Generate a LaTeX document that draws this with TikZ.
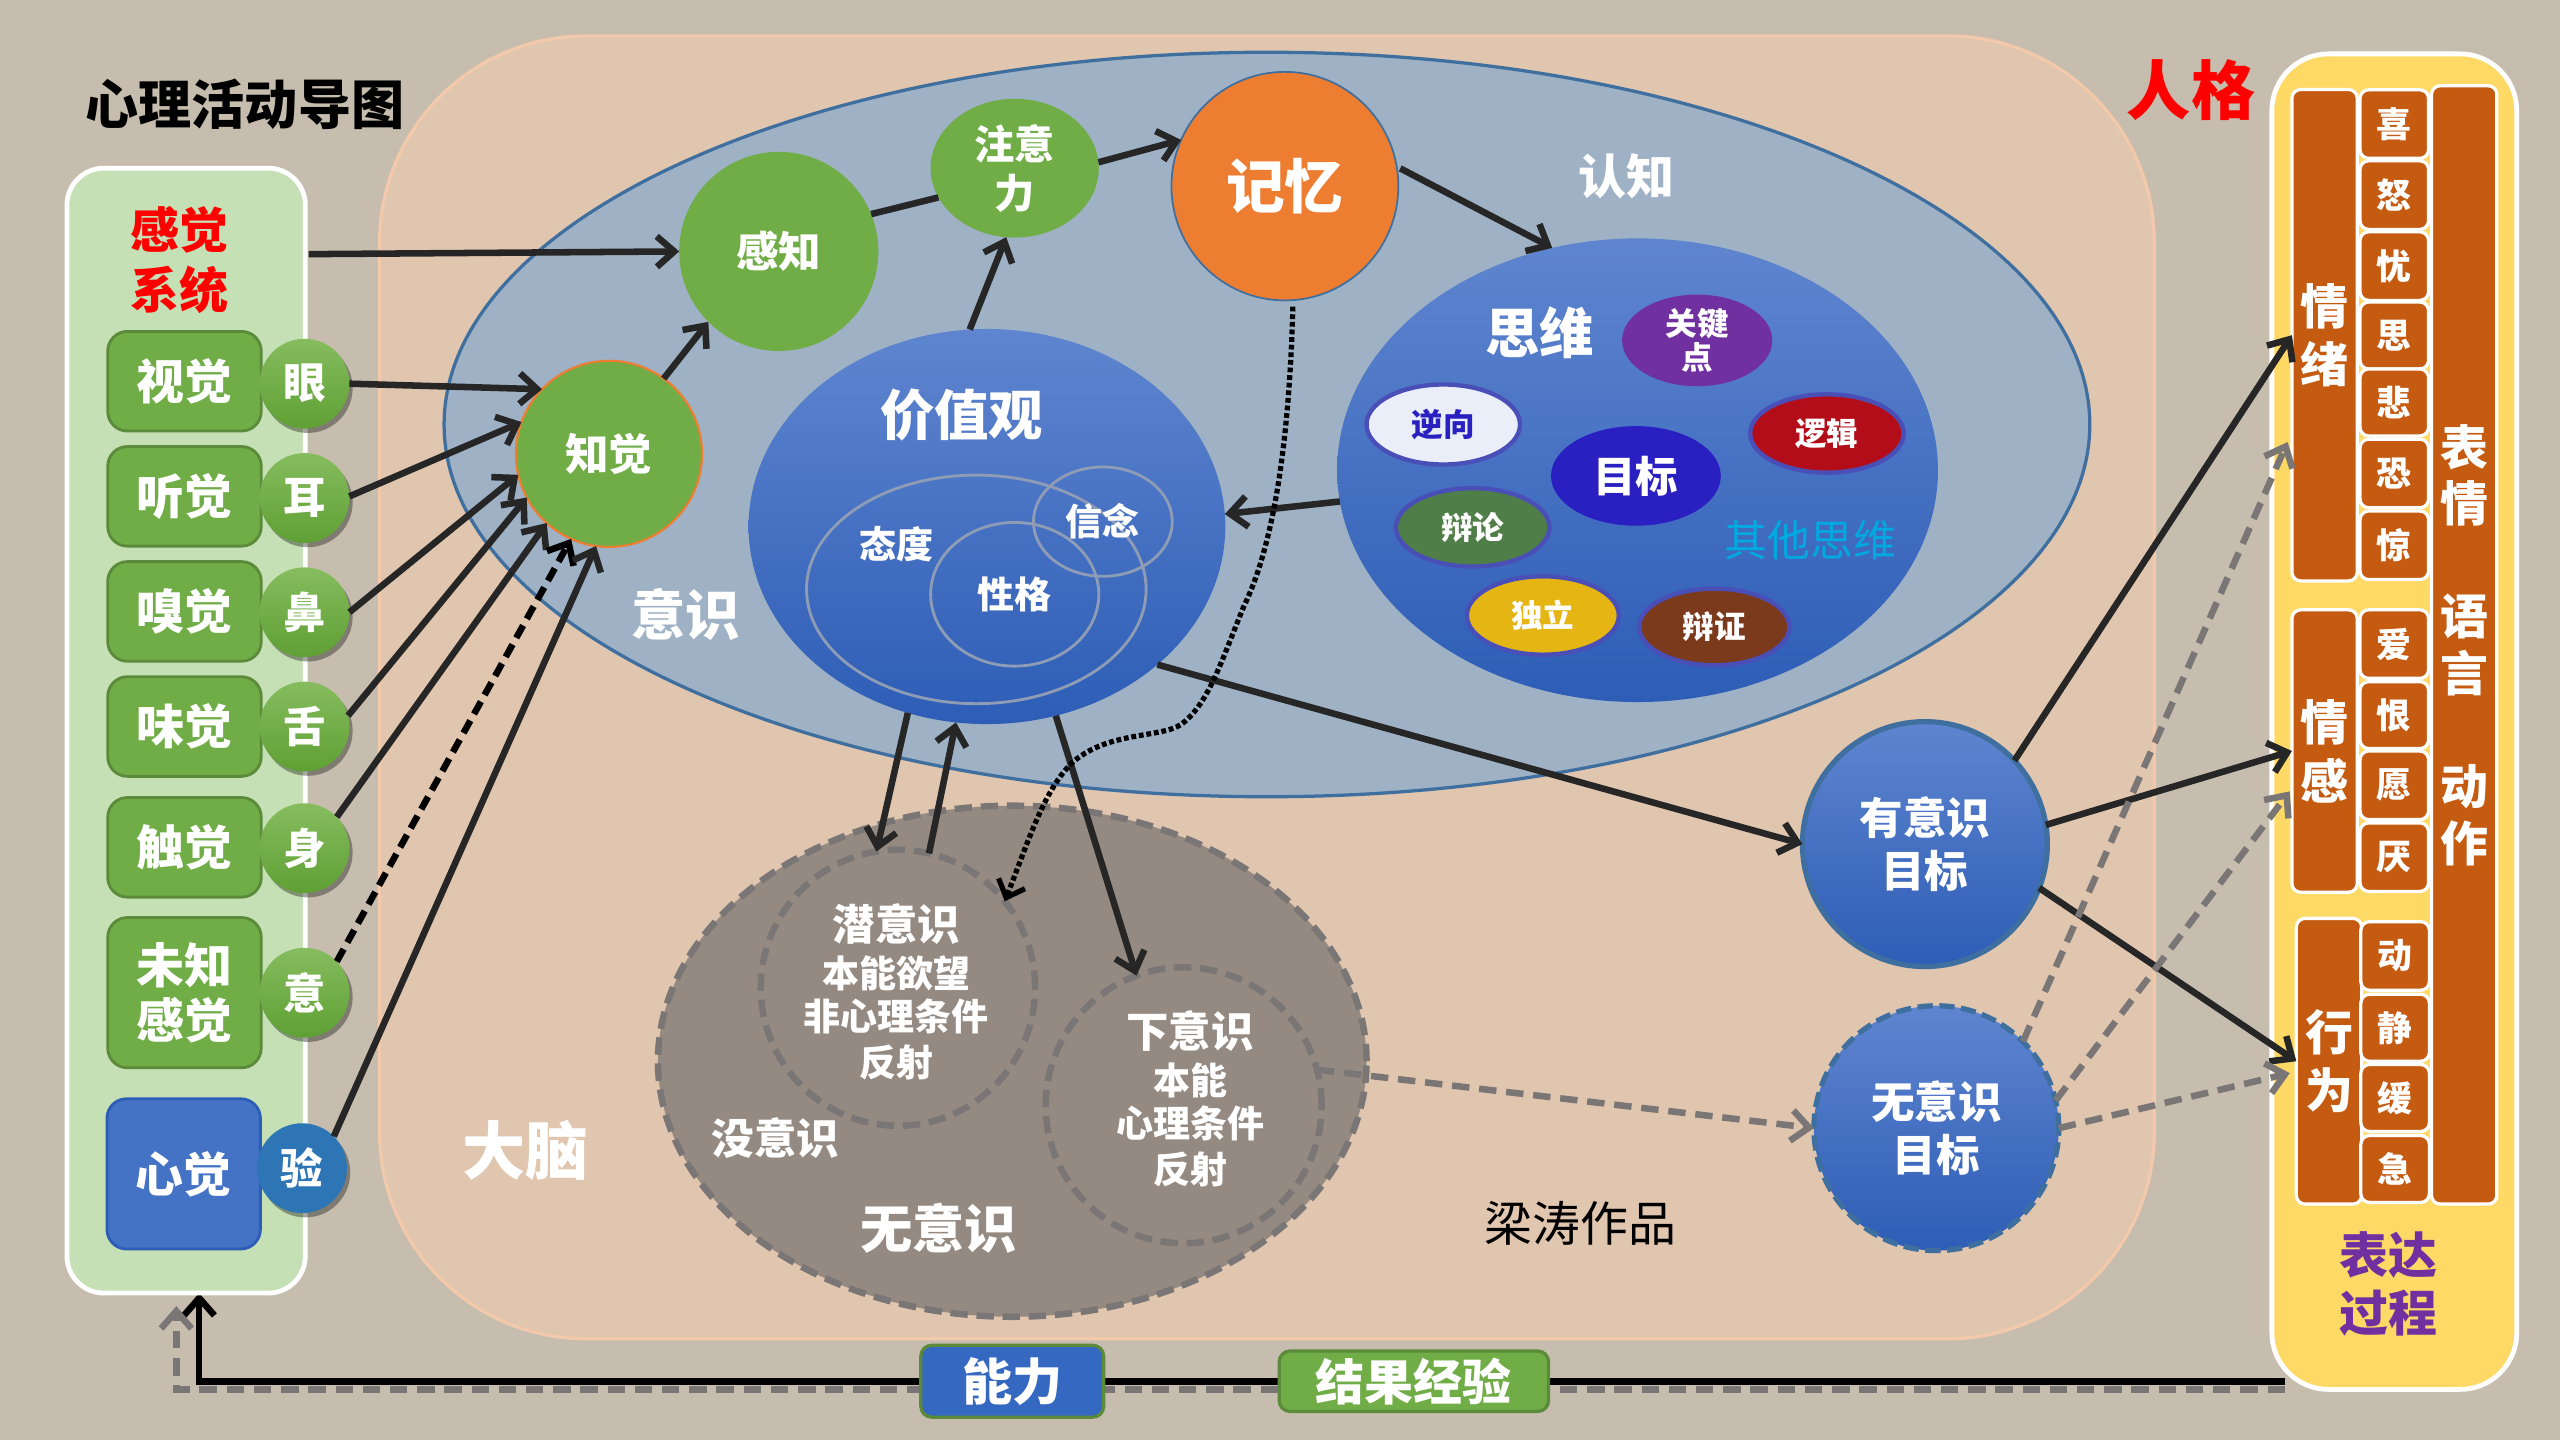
\documentclass[tikz,border=0pt]{standalone}
\usepackage{xcolor}
\usepackage{fontspec}
\setmainfont{Noto Sans CJK SC}
\usetikzlibrary{shapes.geometric,arrows.meta,shadows}

\definecolor{paper}{HTML}{C6BDAE}
\definecolor{brainfill}{HTML}{E0C5AF}
\definecolor{brainedge}{HTML}{F3C9AC}
\definecolor{mindfill}{HTML}{9FB1C4}
\definecolor{mindedge}{HTML}{3F6F9F}
\definecolor{bluetop}{HTML}{5F85CF}
\definecolor{bluebot}{HTML}{2D5DB6}
\definecolor{ballgreen}{HTML}{70AD47}
\definecolor{lightgreen}{HTML}{C5E0B4}
\definecolor{boxedge}{HTML}{5A8A3A}
\definecolor{sensetop}{HTML}{86BC5E}
\definecolor{sensebot}{HTML}{5FA034}
\definecolor{ringblue}{HTML}{4A4FB8}
\definecolor{ringgray}{HTML}{8E9DB5}
\definecolor{deepfill}{HTML}{948A81}
\definecolor{dashgray}{HTML}{7A7675}
\definecolor{darkline}{HTML}{262626}
\definecolor{barorange}{HTML}{C55A11}
\definecolor{panelyellow}{HTML}{FFD966}
\definecolor{plainpurple}{HTML}{7030A0}
\definecolor{memoryorange}{HTML}{ED7D31}
\definecolor{targetblue}{HTML}{2A1FC0}
\definecolor{logicred}{HTML}{B20D18}
\definecolor{debategreen}{HTML}{507E48}
\definecolor{alonegold}{HTML}{E5B514}
\definecolor{dialectbrown}{HTML}{7B3A1C}
\definecolor{reversefill}{HTML}{E9EEF9}
\definecolor{verifyblue}{HTML}{2E75B6}
\definecolor{heartblue}{HTML}{4472C4}
\definecolor{skillblue}{HTML}{3568C0}
\definecolor{othercyan}{HTML}{00A9E0}

\pgfdeclarelayer{paperlayer}
\pgfdeclarelayer{underlayer}
\pgfsetlayers{paperlayer,underlayer,main}

\tikzset{
  dims/.style 2 args={minimum width=#1*0.75pt,minimum height=#2*0.75pt},
  fs/.style={font=\fontsize{#1}{#1}\selectfont\bfseries},
  oval/.style={ellipse,text=white,align=center},
  blueoval/.style={oval,top color=bluetop,bottom color=bluebot},
  greenball/.style={oval,fill=ballgreen},
  ringoval/.style={oval,draw=ringgray,line width=1.3pt},
  thought/.style={oval,draw=ringblue,line width=2pt,fs=14.5},
  sensebox/.style={rectangle,rounded corners=9pt,fill=ballgreen,draw=boxedge,line width=1.3pt,text=white,align=center,fs=22,dims={94}{#1}},
  senseball/.style={oval,top color=sensetop,bottom color=sensebot,dims={55}{55},fs=19.5,drop shadow={shadow xshift=1.5pt,shadow yshift=-2pt,opacity=.35,fill=black}},
  bar/.style={rectangle,rounded corners=4pt,fill=barorange,draw=white,line width=1.5pt,text=white,align=center,fs=22},
  cell/.style={bar,dims={42}{#1},fs=16},
  dashring/.style={oval,draw=dashgray,line width=3pt,dash pattern=on 8pt off 4pt},
  arw/.style={draw=darkline,line width=3pt,-{Straight Barb[length=8pt,width=14pt,line width=3pt]}},
  blackdash/.style={arw,draw=black,dash pattern=on 6.5pt off 3.5pt},
  graydash/.style={draw=dashgray,line width=3pt,dash pattern=on 8pt off 4.5pt,-{Straight Barb[length=8pt,width=14pt,line width=3pt]}},
  label/.style={text=white,align=center}
}

\begin{document}
\begin{tikzpicture}[x=0.75pt,y=0.75pt,yscale=-1,xscale=1,every node/.style={inner sep=0pt,outer sep=0pt}]
\useasboundingbox (0,0) rectangle (1568,882);

\begin{pgfonlayer}{paperlayer}
\fill [paper] (0,0) rectangle (1568,882);
\end{pgfonlayer}

% Brain and the two big regions
\draw (776,421) node (brain) [rectangle,rounded corners=95pt,fill=brainfill,draw=brainedge,line width=1.5pt,dims={1087}{798}] {};
\draw (776,260) node (mind) [oval,fill=mindfill,draw=mindedge,line width=1.5pt,dims={1008}{456}] {};
\draw (620,650) node (deep) [dashring,fill=deepfill,dims={434}{313}] {};
\draw (550,605) node (subc) [dashring,dims={168}{169}] {};
\draw (725,677) node (lowc) [dashring,dims={169}{169}] {};
\draw (549,607.5) node (subctext) [label,fs=17] {{\fontsize{19.5}{19.5}\selectfont 潜意识}\\[4.5pt]本能欲望\\[3pt]非心理条件\\[4pt]反射};
\draw (729,673) node (lowctext) [label,fs=17] {{\fontsize{19.5}{19.5}\selectfont 下意识}\\[4.5pt]本能\\[3pt]心理条件\\[4pt]反射};

% Sense panel
\draw (114,447.5) node (sense) [rectangle,rounded corners=17pt,fill=lightgreen,draw=white,line width=2.2pt,dims={146}{689}] {};
\draw (110,159) node (sensetitle) [fs=22.5,text=red,align=center] {感觉\\[5pt]系统};
\draw (113,233.5) node (sight) [sensebox=61] {视觉};
\draw (113,304) node (hear) [sensebox=61] {听觉};
\draw (113,374.5) node (smell) [sensebox=61] {嗅觉};
\draw (113,445) node (taste) [sensebox=61] {味觉};
\draw (113,519) node (touch) [sensebox=61] {触觉};
\draw (113,608) node (unknown) [sensebox=92] {未知\\[3.5pt]感觉};
\draw (112.5,719) node (heart) [sensebox=92,fill=heartblue,draw=bluebot] {心觉};
\draw (186.5,235) node (eye) [senseball] {眼};
\draw (186.5,305) node (ear) [senseball] {耳};
\draw (186.5,375) node (nose) [senseball] {鼻};
\draw (186.5,445) node (tongue) [senseball] {舌};
\draw (186.5,519.5) node (body) [senseball] {身};
\draw (186.5,608) node (intent) [senseball] {意};
\draw (185,715.5) node (verify) [senseball,top color=verifyblue,bottom color=verifyblue] {验};

% Cognition chain
\draw (477,154) node (percept) [greenball,dims={122}{122},fs=19.5] {感知};
\draw (373,278) node (aware) [greenball,draw=memoryorange,line width=1pt,dims={114}{114},fs=20] {知觉};
\draw (621.5,103) node (focus) [greenball,dims={103}{85},fs=18.5] {注意\\[4pt]力};
\draw (787,114) node (memory) [oval,fill=memoryorange,draw=mindedge,line width=.8pt,dims={139}{140},fs=27] {记忆};

% Values
\draw (604.5,322.5) node (values) [blueoval,dims={292}{242}] {};
\draw (598,361) node (attitude) [ringoval,dims={208}{140}] {};
\draw (621.5,364) node (nature) [ringoval,dims={103}{88},fs=17] {性格};
\draw (675.5,319.5) node (belief) [ringoval,dims={85}{67},fs=17] {信念};

% Thinking
\draw (1003,288) node (think) [blueoval,dims={368}{284}] {};
\draw (1039.5,208.5) node (keypoint) [oval,fill=plainpurple,dims={92}{53},fs=14.5] {关键\\[1.5pt]点};
\draw (884,260) node (reverse) [thought,fill=reversefill,text=targetblue,dims={94}{49}] {逆向};
\draw (1002,291.5) node (target) [oval,fill=targetblue,dims={104}{61},fs=19.5] {目标};
\draw (1119,265.5) node (logic) [thought,fill=logicred,dims={94}{48}] {逻辑};
\draw (902,323) node (debate) [thought,fill=debategreen,dims={94}{48}] {辩论};
\draw (945,377) node (alone) [thought,fill=alonegold,dims={93}{48}] {独立};
\draw (1050,384) node (dialect) [thought,fill=dialectbrown,dims={92}{47}] {辩证};

% Goals
\draw (1179,517) node (goalwith) [blueoval,draw=mindedge,line width=2.4pt,dims={150}{150},fs=20] {有意识\\[4pt]目标};
\draw (1186,691) node (goalwithout) [blueoval,draw=mindedge,line width=2.4pt,dash pattern=on 7pt off 3pt,dims={150}{150},fs=20] {无意识\\[4pt]目标};

% Expression panel
\draw (1466.5,442) node (express) [rectangle,rounded corners=26pt,fill=panelyellow,draw=white,line width=2.2pt,dims={150}{818}] {};
\draw (1423.8,205.3) node (mood) [bar,dims={40}{301}] {情\\[5pt]绪};
\draw (1423.8,460) node (feeling) [bar,dims={40}{173}] {情\\[5pt]感};
\draw (1426.5,650) node (conduct) [bar,dims={40}{175}] {行\\[5pt]为};
\draw (1509.3,395) node (outward) [bar,dims={40}{685}] {表\\[4pt]情\\[30pt]语\\[4pt]言\\[30pt]动\\[4pt]作};
\draw (1466.5,76) node (joy) [cell=42] {喜};
\draw (1466.5,119.5) node (anger) [cell=42] {怒};
\draw (1466.5,163) node (worry) [cell=42] {忧};
\draw (1466.5,205.5) node (brood) [cell=41] {思};
\draw (1466.5,246.5) node (grief) [cell=41] {悲};
\draw (1466.5,290) node (fear) [cell=42] {恐};
\draw (1466.5,334) node (shock) [cell=42] {惊};
\draw (1466.5,394.5) node (love) [cell=42] {爱};
\draw (1466.5,438) node (hate) [cell=41] {恨};
\draw (1466.5,481) node (wish) [cell=42] {愿};
\draw (1466.5,525) node (dislike) [cell=42] {厌};
\draw (1467,585.5) node (move) [cell=42] {动};
\draw (1467,629.5) node (still) [cell=41] {静};
\draw (1467,672.5) node (slow) [cell=41] {缓};
\draw (1467,716) node (rush) [cell=41] {急};
\draw (1463,786.5) node (expresstitle) [fs=22.5,text=plainpurple,align=center] {表达\\[4pt]过程};

% Return boxes
\draw (620,846) node (skill) [rectangle,rounded corners=5pt,fill=skillblue,draw=boxedge,line width=1.5pt,text=white,dims={112}{44},fs=23] {能力};
\draw (866,846) node (result) [rectangle,rounded corners=5pt,fill=ballgreen,draw=boxedge,line width=1.5pt,text=white,dims={165}{37},fs=22.5] {结果经验};

% Free text
\draw (150,64) node (title) [fs=24.4] {心理活动导图};
\draw (1342,55) node (persona) [fs=29.5,text=red] {人格};
\draw (996,108) node (cognition) [label,fs=22] {认知};
\draw (420,376) node (consciousness) [label,fs=25] {意识};
\draw (589,254) node (valuestext) [label,fs=25] {价值观};
\draw (549,333) node (attitudetext) [label,fs=17] {态度};
\draw (943,204) node (thinktext) [label,fs=25] {思维};
\draw (1109,331) node (otherthink) [font=\fontsize{19.7}{19.7}\selectfont,text=othercyan] {其他思维};
\draw (322,705) node (braintext) [label,fs=29] {大脑};
\draw (475,697) node (noconscious) [label,fs=19.5] {没意识};
\draw (575,752) node (unconscious) [label,fs=24] {无意识};
\draw (968,749) node (credit) [font=\fontsize{22}{22}\selectfont] {梁涛作品};

% Return lines, under the boxes
\begin{pgfonlayer}{underlayer}
\draw [draw=black,line width=3pt,-{Straight Barb[length=8pt,width=14pt,line width=3pt]}] ([xshift=6pt,yshift=-3.75pt]express.south west) -| ([xshift=6pt]sense.south);
\draw [graydash] ([xshift=6pt]express.south west) -| ([xshift=-4.5pt,yshift=6pt]sense.south);
\end{pgfonlayer}

% Straight arrows
\draw [arw] ([xshift=1.5pt,yshift=39.5pt]sense.north east) -- (percept.180);
\draw [arw] (eye.0) -- (aware.136);
\draw [arw] (ear.2) -- (aware.160);
\draw [arw] (nose.0) -- (aware.193);
\draw [arw] (tongue.14) -- (aware.208);
\draw [arw] (body.44) -- (aware.228);
\draw [blackdash] (intent.44) -- (aware.246);
\draw [arw] (verify.45) -- (aware.262);
\draw [arw] (aware.54) -- (percept.225);
\draw [draw=darkline,line width=3pt] (percept.22) -- (focus.201);
\draw [arw] (focus.4) -- (memory.156);
\draw [arw] ([xshift=1.5pt]memory.9) -- (think.111);
\draw [arw] (values.95) -- (focus.263);
\draw [arw] (think.186) -- (values.3);
\draw [arw] (values.247) -- (subc.99);
\draw [arw] (subc.77) -- (values.261);
\draw [arw] (values.290) -- (lowc.110);
\draw [arw] (values.321) -- (goalwith.180);
\draw [arw] (goalwith.43) -- (mood.west);
\draw [arw] (goalwith.9) -- (feeling.west);
\draw [arw] (goalwith.339) -- (conduct.west);

% Dashed arrows
\draw [graydash] (lowc.15) -- (goalwithout.180);
\draw [graydash] (goalwithout.45) -- ([xshift=-2pt]mood.253);
\draw [graydash] (goalwithout.13) -- ([xshift=-1pt]feeling.231);
\draw [graydash] (goalwithout.0) -- ([xshift=-3pt]conduct.200);

% Dotted curve
\draw [draw=black,line width=2.4pt,dash pattern=on 2.2pt off 1.3pt,-{Straight Barb[length=7pt,width=13pt,line width=2.4pt]}] ([yshift=3pt]memory.274) .. controls (790,260) and (782,330) .. (762,371) .. controls (748,405) and (740,432) .. (723,444) .. controls (710,452) and (680,448) .. (658,466) .. controls (640,482) and (630,515) .. (subc.39);

\end{tikzpicture}
\end{document}
